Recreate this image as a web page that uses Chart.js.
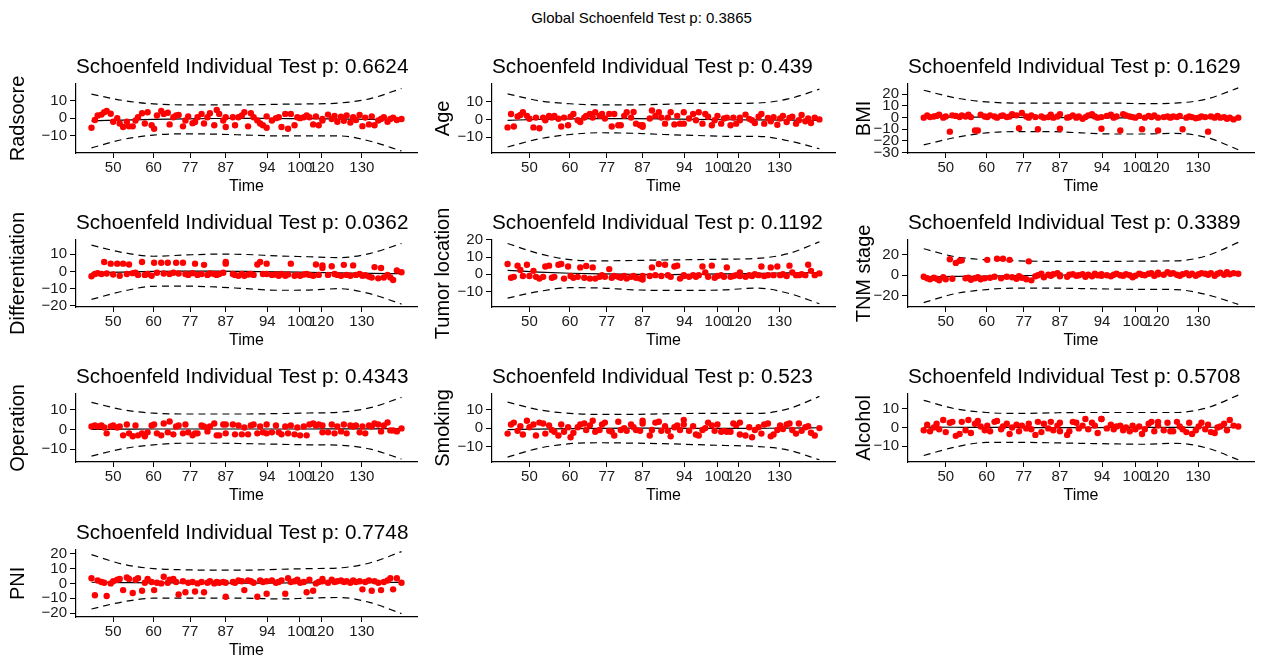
<!DOCTYPE html>
<html>
<head>
<meta charset="utf-8">
<script src="https://cdn.jsdelivr.net/npm/chart.js@4/dist/chart.umd.min.js"></script>
<style>
  body { margin: 0; background: #fff; width: 1261px; height: 658px; position: relative; overflow: hidden;
         font-family: "Liberation Sans", Arial, sans-serif; }
  #global { position: absolute; top: 9px; left: 11px; width: 1261px; text-align: center; font-size: 15px; color: #000; }
  canvas { position: absolute; }
</style>
</head>
<body>
<div id="global"></div>
<div id="panels"></div>
<script>
// Global test p-value and panel labels
const globalP = '0.3865';
const panelNames = ['Radsocre', 'Age', 'BMI', 'Differentiation', 'Tumor location', 'TNM stage', 'Operation', 'Smoking', 'Alcohol', 'PNI'];
const pValues = ['0.6624', '0.439', '0.1629', '0.0362', '0.1192', '0.3389', '0.4343', '0.523', '0.5708', '0.7748'];

// transformed time axis (km scale): tick positions and the original time labels
const timeTickPos = [7, 20, 31.8, 43.3, 56.7, 67.2, 74.2, 87.2];
const timeTickLabels = ['50', '60', '77', '87', '94', '100', '120', '130'];

// event times on the transformed scale (shared by every panel)
const timePos = [
  0, 1.1, 2.0, 3.2, 4.1, 4.9, 6.2, 7.0, 8.3, 9.1,
  10.2, 11.4, 12.1, 13.3, 14.2, 15.0, 16.3, 17.2, 18.1, 19.4,
  20.2, 21.1, 22.5, 23.3, 24.6, 25.2, 26.4, 27.3, 28.1, 29.5,
  30.3, 31.2, 32.6, 33.4, 34.2, 35.5, 36.3, 37.4, 38.2, 39.6,
  40.4, 41.2, 42.5, 43.3, 43.3, 45.6, 46.3, 47.4, 48.5, 49.3,
  50.5, 51.4, 52.3, 53.5, 54.4, 55.3, 56.5, 56.5, 58.2, 59.5,
  60.4, 61.3, 62.5, 63.4, 64.3, 65.5, 66.4, 67.3, 68.5, 69.4,
  70.3, 71.5, 72.4, 73.3, 74.5, 74.5, 76.3, 77.5, 78.4, 79.3,
  80.5, 81.4, 82.3, 83.5, 84.4, 85.3, 86.5, 87.4, 88.3, 89.5,
  90.4, 91.3, 92.5, 93.4, 94.3, 95.5, 96.4, 97.3, 98.5, 100
];

// scaled Schoenfeld residuals, one array per covariate
const radscoreRes = [
  -5.4, -1, 1.5, 2, 3.3, 4, 2.5, -2, 0, -3,
  -5, -2, -4.6, -4.6, -1.3, 0.5, 2.8, -3, 3.3, -4,
  -6, 1.5, 4, 2.4, 3, -3.5, 0.5, 1.5, 1.8, -4.6,
  -1.3, 1, -2.8, -2.2, 0.5, 2.4, -3, 0.5, 2.8, -4,
  4.6, 2.4, -1.3, 0.5, -5, 0.5, -4, 0.5, 1.5, 3.3,
  -4.6, 2.8, 0.5, -1.3, -3, -4, 1, -5.4, -1.3, 0,
  0.5, -5, 2.4, -6, 2.4, -4, 0.5, 0, 0.5, 1.5,
  0.5, -3.5, 1, -4, -1.3, -0.5, 2, -0.5, 1.2, -2,
  0.8, -1.5, 1.5, -2.5, 0.5, -1, 1.8, -4.5, 0.3, -3.5,
  1, -4, -1.3, -0.5, 0.5, -2, -0.5, 0.3, -1, -0.5
];
const ageRes = [
  -4.5, 3, -4, 1.6, 2.5, 4, 2, 0.4, -4.5, 1,
  -5, 1, -0.5, 2, 1, 2, 0.4, -4, 1, -3.3,
  1.5, 3, -0.5, -1.5, 1, 2, 3, 1, 4, 2,
  3, 0.5, 3, -4, 3, -3.3, -3.3, 2, 4, 1,
  4.2, -2.4, -3.3, -4.2, -3.3, 0.5, 5, 2, 4, 1,
  -2.4, 1, 4, -2.8, 2, -2.4, 4, -2.4, 0.5, 3,
  -0.5, 4, -2.4, 3, 1.5, -3.3, -0.5, 2, -2.4, 0.5,
  1, -3.3, 1, -2.4, 1, -0.5, 2.7, 0.3, -0.5, -2,
  1.5, 3, -2.4, 0.8, -1, 1.2, -3, 0.5, 2, -1.5,
  0.8, 1.5, -2.4, -0.5, 2.5, -1, 0.5, -2, 1, 0
];
const bmiRes = [
  0, 2, 0.5, 1, 1.5, 2.5, 0, 1, -12, 2,
  1.5, 0.5, 2, 1, 2.5, 0.5, -11, -11, 2.5, 1,
  0.5, 2, 1, 0, 1.5, 2, 0.5, 1, 3, 2,
  -9, 4, 1, 0, 2, 0.5, -10, 1, 0, 0.5,
  2.5, 0, 1, -9.5, 3, 0, 0.5, 2, 0, 1,
  -1, 0.5, 2, 3, 1, 0, -9.5, 0.5, 1.5, 2.5,
  0, 1, -11, 3, 2, 1, 0.5, 0, 1.5, -10,
  0, 1.5, 0.5, 2, 0, -11, 0.5, 1, 0, 1,
  0.5, 1.5, -10, 0, 1, 0.5, -0.5, 0, 1, 0.5,
  -12, 1, 0, 1.5, 0, 0.5, -1, 0, -1.5, 0
];
const diffRes = [
  -2.8, -1.5, -1, -1.5, 5.5, -1.2, 4.5, -1.8, 4.5, -2.5,
  4.5, -1.5, 4, -1, -0.8, -2, 5.5, -2, -1.5, -2.5,
  5, -0.8, 5, -1.2, 5, -1.5, -0.8, 5, -1.2, 5,
  -1.5, -2, -1, 4.5, -2, -1.5, 3.8, -2, -1.2, -1.5,
  -2, -1.5, -0.8, 4.5, 5.5, -1.5, -2, -2.5, -1.5, -2.5,
  -1.8, -1.5, -2, 4, 5.5, -1.5, 4.5, -1.5, -2, -1.8,
  -2.5, -1.5, -2.5, -1.8, 4.5, -2.5, -2, -2.5, -1.8, -1.5,
  -2, -2.5, 4, -2, 3.5, 2, -2, 3, -1.5, -2,
  -2.5, 3.8, -2, -2.5, 3.5, -2, -1.5, -2.5, -2.2, -3,
  -3.5, 2.5, -4, 2, -3.5, -2, -3.5, -5, 0.5, -0.5
];
const tumorRes = [
  6, -2, -1.5, 5, 2.5, -1, 5.5, -1, 2, -1.5,
  -2.5, -1.5, 4.5, 5, -2, -1.5, 5.5, 6, -2.5, 4.5,
  -1, -2, -1.5, 4, -2, 4.8, -2.5, 4, -2.5, -1.5,
  -0.5, -1.5, 3, -2, -1, -1.5, -2, -1, -2.5, -1.5,
  -1, -2, -2.5, -1, -3, -1, 4, -0.5, 6, -1,
  5.5, -0.5, -1.5, 4.5, 5, -2.5, -0.5, -1, -1.5, -0.5,
  -1.5, -0.5, 4.5, 1, -1.5, 5, -2, -1, -0.5, -1.5,
  4, -1.5, -1, -0.5, 1, -1, -1.5, -0.5, -1, 0,
  -0.5, 4.5, -1, -0.5, 4, -0.5, 4.5, -0.5, 0, -1,
  5, 1, -0.5, -0.5, 0, -0.5, 5.5, 2, -0.5, 0.5
];
const tnmRes = [
  -1.5, -3, -4, -2.5, -3.5, -5, -2, -4, 15.5, -3.5,
  12, 14, 14.5, -3, -2.5, -4.5, -3, -2, -4, -3,
  15, -2.5, -1.5, 16, -3, 16, -1.5, 15, -2, -3.5,
  -1, -2.5, -4, 13.5, -5, -1, 0, 1.5, -2, 0.5,
  -0.5, 1, 2, -1, 0, -1.5, 0.5, 1, -0.5, 0,
  1, -1.5, 0.5, -1, 1.5, 0, -0.5, 1, 0, -1,
  0.5, 1.5, 0, -0.5, 1, 0, -2, -0.5, 1.5, 0.5,
  0, 1.5, 2, -0.5, 1, 2.5, 0.5, 3, 1.5, 2,
  0.5, -0.5, 1, 2, 0, 1.5, -0.5, 1, 2, 1.5,
  0.5, 2, -0.5, 1.5, 2.5, 0.5, 3, 1, 2, 1.5
];
const operationRes = [
  1.5, 2, 1.5, 2, 1, -2, 1.5, 2, 1, 1.5,
  -3, 2.5, -2, -3.5, 2, -3, -2, -3.5, -1.5, 2,
  2.5, -2, -3, 3, -1.5, 4, -2.5, 1.5, 2, -2,
  2.5, -1.5, -3, -2, -2, 2, 1.5, -1, 1.5, 3,
  -3, -3, 2.5, 2.5, -2, 2.5, -2.5, 2, -2.5, 1,
  -2.5, 2, 2.5, -2, 1.5, -1.5, 2.5, -2, -1.5, 2,
  -1.5, -2.5, 1.5, -2, 2, -2.5, 1, -3, 1.5, -3,
  2.5, 3, 2, 2.5, -1.5, 2, -1.5, 2.5, -2, 1.5,
  -1, 2.5, -2, 2, 1.5, 2, -1.5, 1.5, -2, 2,
  1.5, 3, 2.5, -1, 2, 3.5, -0.5, -0.5, -1, 0.5
];
const smokingRes = [
  -3, 2, 3, -1.5, 1, -3.5, 4, 0.5, 2, -4,
  3, 2.5, -3, 1.5, -1, -2, -4, 2, -2, 0.5,
  -5, -2.5, 0.5, 2, 2.5, -1, 1.5, 4, -2, -1,
  2, 3, -1.5, -2, -4, 3.5, -1, 0, -1.5, 2,
  0.5, -1, -1.5, 4, 2.5, -4, -1, 3, 3.5, -1.5,
  1, -1.5, -4.5, 0.5, 1.5, -1, 4.5, 2, -1.5, 1,
  -3.5, -4, -1, 0, 3, 1.5, -1.5, 2, -2, -1.5,
  -2, -2, 2.5, 1.5, 3, -3.5, -4, 0.5, -5, -1,
  0.5, -3, 2, 2.5, -4.5, -3.5, -1, 1.5, -0.5, 2,
  2.5, -1, -3, 2.5, -1.5, 0.5, 1, -2.5, -4, 0
];
const alcoholRes = [
  -1.5, 1.5, -2, 0, 2, -1, 4, -2.5, 2.5, 3,
  -4.5, -3.5, 3, -1.5, 4, -3, 2, 3.5, 0.5, -1.5,
  1, -2, 3, 3.5, -1, 0.5, 2, -3.5, 0, 1.5,
  -2, 1, -0.5, 2, -1, -4, 3, -2.5, 2, -0.5,
  3, -1.5, 1, -2, 2.5, -4, -2, 3, 2.5, -0.5,
  1, 4.5, -1, 2.5, 1, -3, 4.5, 4.5, -0.5, 1.5,
  -1, 0.5, 1, -1.5, 0, -2, 1, -1, 0.5, -3.5,
  -1, 2, 3, -2, 1, 3, -1.5, 2.5, -2, -2,
  3, 0.5, -1, -2.5, 2.5, -3.5, -1.5, 0.5, 2.5, -1,
  1.5, -2.5, -3, 0, 0.5, 2, -1.5, 4, 1, 0.5
];
const pniRes = [
  3.5, -8, 2, 1, 0.5, -8.5, 0, 1.5, 2.5, 3,
  -4.5, 4, 3, -6.5, 2.5, 3.5, -5, 0.5, 3, 1,
  -4.5, 0.5, 0, 4.5, 0.5, 2.5, 3, 1, -7.5, 1.5,
  -6, 0.5, 1, -5.5, 0, 1, -6, 0.5, 1.5, 0,
  1, 0.5, 1, -9, 0.5, 1, 0.5, 2, 1.5, -4.5,
  2, 1.5, 0.5, -9, 2, 1, -7, 1.5, 2, 0.5,
  1, 2, -7, 3.5, 1, 1.5, 2.5, 0.5, 1, -6,
  2.5, -5, 0, 1, 1.5, 3, 0.5, 2.5, 1, 1.5,
  2, 1, 1.5, 0.5, 2, 1, 1.5, -4, 1, 2,
  -5, 1.5, 0.5, -4.5, 1, 2, 3.5, -4, 3.5, 0.5
];

// smoothed beta(t) and its +/- 2 se band, read at these knots
const bandTime = [0, 10, 20, 30, 40, 50, 60, 70, 80, 90, 100];
const radscoreFit = [-1.5, -1.1, -0.7, -0.4, -0.2, -0.1, -0.2, -0.3, -0.5, -0.7, -0.9];
const radscoreUp = [13.5, 10, 8, 7.5, 7.5, 7.5, 7.8, 8, 8.5, 11, 16.7];
const radscoreLo = [-16.7, -12, -9.5, -8.8, -9, -9.5, -10, -10, -10, -13, -18.5];
const ageFit = [-0.5, 0, 0.3, 0.4, 0.4, 0.3, 0, -0.2, -0.3, -0.4, -0.5];
const ageUp = [14.4, 10.5, 8.8, 8.2, 8.2, 8.5, 9, 9, 9.2, 11.5, 17];
const ageLo = [-15.5, -11, -8.5, -7.5, -7.8, -8.5, -9, -9.5, -9.5, -12, -16.5];
const bmiFit = [0.5, 0.5, 0.4, 0.3, 0.2, 0, -0.1, -0.3, -0.4, -0.6, -0.8];
const bmiUp = [23.5, 17, 13.5, 12.5, 12.5, 12.5, 12.5, 12, 12.5, 16, 25.5];
const bmiLo = [-23.4, -17, -13, -12, -12, -13, -14, -14, -13.5, -17, -27.5];
const diffFit = [-0.8, -0.4, 0, 0.2, 0.2, 0, -0.2, -0.5, -0.8, -1.1, -1.3];
const diffUp = [15.2, 11, 8.8, 9.5, 10, 9.8, 9, 8.5, 8, 10.5, 16.2];
const diffLo = [-16.2, -11.5, -8.6, -8.5, -9, -10, -10.9, -10.8, -10, -13, -18.9];
const tumorFit = [2.3, 1.3, 0.6, 0.2, 0, -0.2, 0, 0.2, 0.5, 0.8, 1];
const tumorUp = [17.9, 12, 8.5, 7.8, 8, 8.3, 8.5, 8.8, 9.2, 12, 18.8];
const tumorLo = [-13.8, -10, -7.8, -8, -9, -9.4, -9.4, -9, -8, -11, -17.1];
const tnmFit = [-1.6, -1.2, -0.8, -0.4, 0, 0.3, 0.6, 0.9, 1.2, 1.4, 1.6];
const tnmUp = [25.8, 18, 15, 14, 13.5, 13.5, 13.5, 13.8, 14, 19, 32];
const tnmLo = [-26.8, -18, -14, -12.5, -12.5, -13, -13.5, -13.8, -14, -19, -28.4];
const operationFit = [0, 0.1, 0.2, 0.2, 0.2, 0.2, 0.2, 0.2, 0.3, 0.3, 0.4];
const operationUp = [13.7, 10, 8.2, 7.8, 7.8, 7.8, 8, 8.3, 8.7, 11, 16.2];
const operationLo = [-13.5, -9.8, -7.8, -7, -7, -7.2, -7.5, -7.8, -8, -10, -15];
const smokingFit = [-0.8, -0.6, -0.3, -0.1, 0, -0.1, -0.2, -0.2, -0.1, 0, 0.2];
const smokingUp = [14.2, 10, 8, 7.5, 7.5, 7.8, 8, 8, 8, 10.5, 17.3];
const smokingLo = [-15.8, -11, -8.5, -8, -8.2, -8.5, -9, -9.5, -10, -12, -17.3];
const alcoholFit = [0.2, 0.1, 0, 0, -0.1, -0.1, 0, 0, 0, 0.1, 0.1];
const alcoholUp = [14.5, 10, 8, 7.5, 7.8, 8, 8, 8, 8, 10.5, 17.3];
const alcoholLo = [-15, -10.5, -8, -8, -8.2, -8.5, -8.8, -9, -8.5, -11, -17.3];
const pniFit = [0.8, 0.6, 0.4, 0.3, 0.2, 0.2, 0.3, 0.4, 0.5, 0.6, 0.7];
const pniUp = [19.5, 13, 10, 9.2, 9, 9, 9.5, 10, 10.5, 14, 21.5];
const pniLo = [-17.3, -12.5, -10, -10, -10, -10, -10.5, -10, -9.5, -13, -20.4];

// y axis ticks and limits per panel
const yTicks = [
  [-10, 0, 10], [-10, 0, 10], [-30, -20, -10, 0, 10, 20],
  [-20, -10, 0, 10], [-10, 0, 10, 20], [-20, 0, 20],
  [-10, 0, 10], [-10, 0, 10], [-10, 0, 10],
  [-20, -10, 0, 10, 20]
];
const yLimits = [
  [-19.6, 19.3], [-18.9, 20], [-30.3, 29],
  [-20.6, 18.3], [-19, 20], [-31, 34.5],
  [-16.5, 18], [-18.5, 18.7], [-18.5, 18],
  [-22.7, 22.7]
];

const residuals = [radscoreRes, ageRes, bmiRes, diffRes, tumorRes, tnmRes, operationRes, smokingRes, alcoholRes, pniRes];
const fits = [radscoreFit, ageFit, bmiFit, diffFit, tumorFit, tnmFit, operationFit, smokingFit, alcoholFit, pniFit];
const uppers = [radscoreUp, ageUp, bmiUp, diffUp, tumorUp, tnmUp, operationUp, smokingUp, alcoholUp, pniUp];
const lowers = [radscoreLo, ageLo, bmiLo, diffLo, tumorLo, tnmLo, operationLo, smokingLo, alcoholLo, pniLo];

// page layout (pixels)
const colLeft = [76, 492, 908];
const colRight = [420, 838, 1257];
const rowTop = [83, 239, 393, 549];
const rowBottom = [153, 307, 462, 617];
const yTitlePad = [0, 9, 14];
const AXIS_W = 70, TOP_H = 38, XAXIS_H = 44;

const FONT = '"Liberation Sans", Arial, sans-serif';
const minus = v => String(v).replace('-', '\u2212');

document.getElementById('global').textContent = 'Global Schoenfeld Test p: ' + globalP;

const holder = document.getElementById('panels');
panelNames.forEach((name, i) => {
  const c = i % 3, r = Math.floor(i / 3);
  const left = colLeft[c] - AXIS_W;
  const top = rowTop[r] - TOP_H;
  const w = colRight[c] - colLeft[c] + AXIS_W + 1;
  const h = rowBottom[r] - rowTop[r] + TOP_H + XAXIS_H;

  const canvas = document.createElement('canvas');
  canvas.width = w;
  canvas.height = h;
  canvas.style.left = left + 'px';
  canvas.style.top = top + 'px';
  canvas.style.width = w + 'px';
  canvas.style.height = h + 'px';
  holder.appendChild(canvas);

  const res = residuals[i];
  const curve = arr => bandTime.map((t, k) => ({ x: t, y: arr[k] }));
  const lineStyle = {
    showLine: true, pointRadius: 0, borderColor: '#000', borderWidth: 1.2,
    cubicInterpolationMode: 'monotone', fill: false
  };

  new Chart(canvas.getContext('2d'), {
    type: 'scatter',
    data: {
      datasets: [
        {
          data: timePos.map((t, k) => ({ x: t, y: res[k] })),
          backgroundColor: '#ff0000',
          borderWidth: 0,
          pointRadius: 3.2
        },
        Object.assign({ data: curve(fits[i]) }, lineStyle),
        Object.assign({ data: curve(uppers[i]), borderDash: [7, 5] }, lineStyle),
        Object.assign({ data: curve(lowers[i]), borderDash: [7, 5] }, lineStyle)
      ]
    },
    options: {
      responsive: false,
      animation: false,
      layout: { padding: { top: 10, left: 0, right: 0, bottom: 0 } },
      plugins: {
        legend: { display: false },
        tooltip: { enabled: false },
        title: {
          display: true,
          text: 'Schoenfeld Individual Test p: ' + pValues[i],
          align: 'start',
          fullSize: false,
          color: '#000',
          font: { family: FONT, size: 20.7, weight: 'normal' },
          padding: { top: 0, bottom: 4 }
        }
      },
      scales: {
        x: {
          type: 'linear',
          min: -5,
          max: 105,
          afterBuildTicks: axis => { axis.ticks = timeTickPos.map(v => ({ value: v })); },
          afterFit: axis => { axis.height = XAXIS_H; },
          ticks: {
            autoSkip: false,
            maxRotation: 0,
            padding: 1,
            color: '#1a1a1a',
            font: { family: FONT, size: 15 },
            callback: (v, idx) => timeTickLabels[idx]
          },
          grid: { drawOnChartArea: false, drawTicks: true, tickLength: 5, color: '#000' },
          border: { display: true, color: '#000', width: 1.2 },
          title: {
            display: true, text: 'Time', color: '#000',
            font: { family: FONT, size: 16 },
            padding: { top: 0, bottom: 1 }
          }
        },
        y: {
          min: yLimits[i][0],
          max: yLimits[i][1],
          afterBuildTicks: axis => { axis.ticks = yTicks[i].map(v => ({ value: v })); },
          afterFit: axis => { axis.width = AXIS_W; },
          ticks: {
            autoSkip: false,
            padding: 3,
            color: '#1a1a1a',
            font: { family: FONT, size: 15, lineHeight: 1 },
            callback: v => minus(v)
          },
          grid: { drawOnChartArea: false, drawTicks: true, tickLength: 6, color: '#000' },
          border: { display: true, color: '#000', width: 1.2 },
          title: {
            display: true, text: name, color: '#000',
            font: { family: FONT, size: 20 },
            padding: { top: yTitlePad[c], bottom: 0 }
          }
        }
      }
    }
  });
});
</script>
</body>
</html>
